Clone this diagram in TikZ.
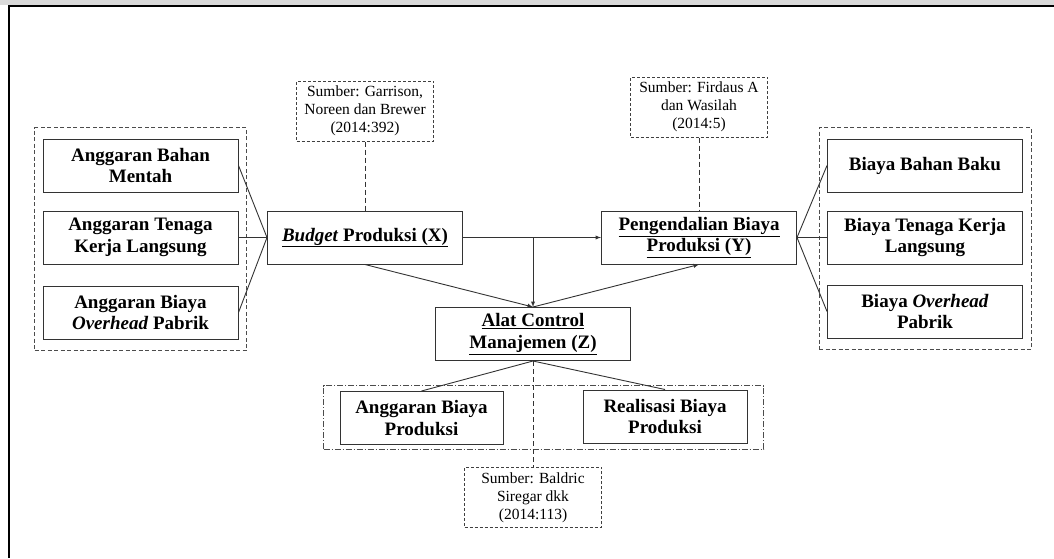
\documentclass[tikz,border=0pt]{standalone}
\usepackage{fontspec}
\setmainfont{Liberation Serif}
\usepackage{tikz}
\usetikzlibrary{arrows,positioning,fit}

\begin{document}
\begin{tikzpicture}[
  x=1pt, y=-1pt,
  myitem/.style={
    draw=black!80,
    line width=1pt,
    fill=white,
    minimum width=195pt,
    minimum height=53pt,
    inner sep=0pt,
    align=center,
    font=\fontsize{19}{21.5}\selectfont\bfseries
    },
  mysource/.style={
    draw=black!75,
    dash pattern=on 3pt off 2pt,
    line width=0.8pt,
    minimum width=137pt,
    minimum height=60pt,
    inner sep=0pt,
    align=center,
    font=\fontsize{15.5}{18}\selectfont
    },
  mygroup/.style={
    draw=black!70,
    dash pattern=on 4pt off 2.5pt,
    line width=0.8pt,
    inner xsep=8pt,
    inner ysep=11pt
    },
  mylink/.style={draw=black!80, line width=0.9pt},
  myarrow/.style={mylink, -latex},
  mydash/.style={draw=black!80, line width=0.8pt, dash pattern=on 5pt off 3pt}
]

\useasboundingbox (0,0) rectangle (1054,558);
\fill[black!15] (0,0) rectangle (1054,4.5);
\draw[line width=2pt] (1054,6) -- (9,6) -- (9,558);

% main variables
\node[myitem] (budget) at (365,237.5) {\underline{\textit{Budget} Produksi (X)}};
\node[myitem] (pengendalian) at (699,237.5) {\underline{Pengendalian Biaya}\\\underline{Produksi (Y)}};
\node[myitem] (alat) at (533,334) {\underline{Alat Control}\\\underline{Manajemen (Z)}};

% indicators X
\node[myitem] (anggaranTK) at (140.5,237.5) {Anggaran Tenaga\\Kerja Langsung};
\node[myitem, above=18pt of anggaranTK] (anggaranBM) {Anggaran Bahan\\Mentah};
\node[myitem, below=21pt of anggaranTK] (anggaranOH) {Anggaran Biaya\\\textit{Overhead} Pabrik};

% indicators Y
\node[myitem] (biayaTK) at (925,237.5) {Biaya Tenaga Kerja\\Langsung};
\node[myitem, above=18pt of biayaTK] (biayaBB) {Biaya Bahan Baku};
\node[myitem, below=20pt of biayaTK] (biayaOH) {Biaya \textit{Overhead}\\Pabrik};

% indicators Z
\node[myitem, minimum width=163pt] (anggaranBP) at (421.5,418) {Anggaran Biaya\\Produksi};
\node[myitem, minimum width=164pt] (realisasiBP) at (665,416.5) {Realisasi Biaya\\Produksi};

% sources
\node[mysource, above=69pt of budget] (sumberX) {Sumber: Garrison,\\Noreen dan Brewer\\(2014:392)};
\node[mysource, above=73pt of pengendalian] (sumberY) {Sumber: Firdaus A\\dan Wasilah\\(2014:5)};
\node[mysource, below=106pt of alat] (sumberZ) {Sumber: Baldric\\Siregar dkk\\(2014:113)};

% groups
\node[mygroup, fit=(anggaranBM)(anggaranOH)] (groupX) {};
\node[mygroup, fit=(biayaBB)(biayaOH)] (groupY) {};
\node[mygroup, dash pattern=on 6pt off 2pt on 1pt off 2pt, inner xsep=16pt, inner ysep=4pt,
  fit=(anggaranBP)(realisasiBP)] (groupZ) {};

% connectors
\foreach \n in {anggaranBM, anggaranTK, anggaranOH}
  \draw[mylink] (\n.east) -- (budget.west);
\foreach \n in {biayaBB, biayaTK, biayaOH}
  \draw[mylink] (pengendalian.east) -- (\n.west);
\draw[myarrow] (budget.east) -- (pengendalian.west);
\coordinate (split) at (budget.east -| alat.north);
\draw[myarrow] (split) -- (alat.north);
\draw[myarrow] (budget.south) -- (alat.north);
\draw[myarrow] (alat.north) -- (pengendalian.south);
\draw[mylink] (alat.south) -- (anggaranBP.north);
\draw[mylink] (alat.south) -- (realisasiBP.north);
\draw[mydash] (sumberX.south) -- (budget.north);
\draw[mydash] (sumberY.south) -- (pengendalian.north);
\draw[mydash] (alat.south) -- (sumberZ.north);

\end{tikzpicture}
\end{document}
